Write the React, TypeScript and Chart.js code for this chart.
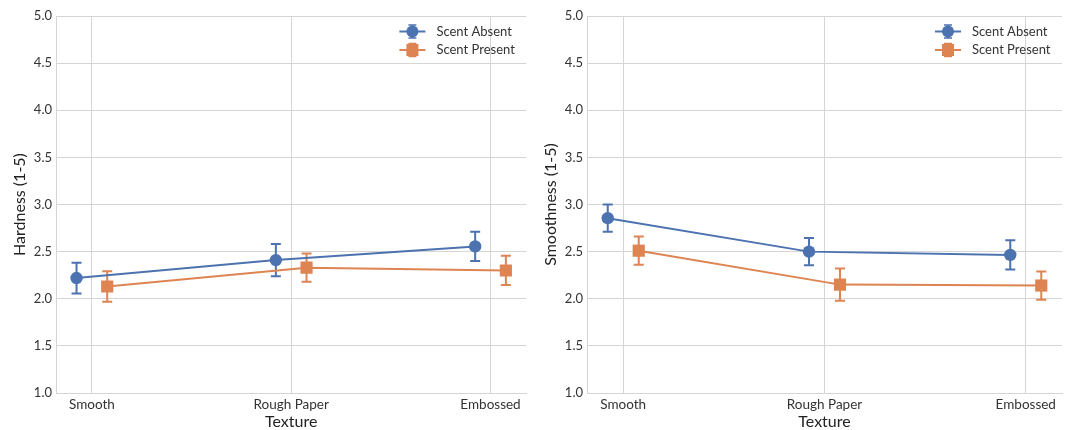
import React, { useEffect, useRef } from "react";
import { Chart, registerables } from "chart.js";

Chart.register(...registerables);

// Categories and groups
const textures = ["Smooth", "Rough Paper", "Embossed"];
const groups = ["Scent Absent", "Scent Present"];

// Hardness ratings: means and 95% CI half-widths
const hardnessAbsent = [2.22, 2.41, 2.555];
const hardnessAbsentCI = [0.163, 0.17, 0.155];
const hardnessPresent = [2.13, 2.33, 2.3];
const hardnessPresentCI = [0.163, 0.15, 0.155];

// Smoothness ratings: means and 95% CI half-widths
const smoothnessAbsent = [2.855, 2.5, 2.465];
const smoothnessAbsentCI = [0.145, 0.145, 0.155];
const smoothnessPresent = [2.51, 2.15, 2.14];
const smoothnessPresentCI = [0.15, 0.17, 0.15];

const yMin = 1;
const yMax = 5;
const yStep = 0.5;

const BLUE = "#4c72b0";
const ORANGE = "#dd8452";
const GRID = "#d5d5d5";
const TEXT = "#333333";
const FONT = "Lato, 'Noto Sans', sans-serif";
const DODGE = 0.077;

type PanelProps = {
  yTitle: string;
  absent: number[];
  absentCI: number[];
  present: number[];
  presentCI: number[];
  left: number;
  width: number;
  padRight: number;
};

function toPoints(values: number[], offset: number) {
  return values.map((v, i) => ({ x: i + offset, y: v }));
}

function drawErrorBar(
  ctx: CanvasRenderingContext2D,
  x: number,
  yTop: number,
  yBottom: number,
  cap: number,
  color: string,
  width: number
) {
  ctx.save();
  ctx.strokeStyle = color;
  ctx.lineWidth = width;
  ctx.beginPath();
  ctx.moveTo(x, yTop);
  ctx.lineTo(x, yBottom);
  ctx.moveTo(x - cap, yTop);
  ctx.lineTo(x + cap, yTop);
  ctx.moveTo(x - cap, yBottom);
  ctx.lineTo(x + cap, yBottom);
  ctx.stroke();
  ctx.restore();
}

function Panel(props: PanelProps) {
  const ref = useRef<HTMLCanvasElement | null>(null);

  useEffect(() => {
    const canvas = ref.current;
    if (!canvas) return;

    const series = [
      { label: groups[0], values: props.absent, ci: props.absentCI, color: BLUE, offset: -DODGE, style: "circle", radius: 6.2 },
      { label: groups[1], values: props.present, ci: props.presentCI, color: ORANGE, offset: DODGE, style: "rect", radius: 8.6 },
    ];

    const errorBars = {
      id: "errorBars",
      beforeDatasetsDraw(chart: any) {
        const ctx = chart.ctx;
        const xs = chart.scales.x;
        const ys = chart.scales.y;
        series.forEach((s) => {
          s.values.forEach((v, i) => {
            const px = xs.getPixelForValue(i + s.offset);
            drawErrorBar(ctx, px, ys.getPixelForValue(v + s.ci[i]), ys.getPixelForValue(v - s.ci[i]), 5, s.color, 2);
          });
        });
      },
    };

    const legendBox = {
      id: "legendBox",
      afterDraw(chart: any) {
        const ctx = chart.ctx;
        const area = chart.chartArea;
        const x0 = area.right - 127;
        series.forEach((s, k) => {
          const y = area.top + 15.5 + k * 18.5;
          ctx.save();
          ctx.strokeStyle = s.color;
          ctx.lineWidth = 2;
          ctx.beginPath();
          ctx.moveTo(x0, y);
          ctx.lineTo(x0 + 26, y);
          ctx.stroke();
          const cx = x0 + 13;
          drawErrorBar(ctx, cx, y - 6.5, y + 6.5, 4, s.color, 1.6);
          ctx.fillStyle = s.color;
          if (s.style === "circle") {
            ctx.beginPath();
            ctx.arc(cx, y, 6, 0, Math.PI * 2);
            ctx.fill();
          } else {
            ctx.fillRect(cx - 6, y - 6, 12, 12);
          }
          ctx.fillStyle = TEXT;
          ctx.font = `13px ${FONT}`;
          ctx.textAlign = "left";
          ctx.textBaseline = "middle";
          ctx.fillText(s.label, x0 + 37, y);
          ctx.restore();
        });
      },
    };

    const chart = new Chart(canvas, {
      type: "line",
      data: {
        datasets: series.map((s) => ({
          label: s.label,
          data: toPoints(s.values, s.offset),
          borderColor: s.color,
          backgroundColor: s.color,
          borderWidth: 2,
          pointStyle: s.style as any,
          pointRadius: s.radius,
          pointBorderWidth: 0,
          pointBackgroundColor: s.color,
          tension: 0,
        })),
      },
      options: {
        animation: false,
        responsive: false,
        events: [],
        layout: { padding: { top: 16, right: props.padRight, left: 0, bottom: 0 } },
        plugins: { legend: { display: false }, tooltip: { enabled: false } },
        scales: {
          x: {
            type: "linear",
            min: -0.18,
            max: 2.18,
            afterBuildTicks(scale: any) {
              scale.ticks = textures.map((_, i) => ({ value: i }));
            },
            afterFit(scale: any) {
              scale.height = 37;
              scale.paddingLeft = 0;
              scale.paddingRight = 0;
            },
            ticks: {
              callback: (_v: any, i: number) => textures[i],
              font: { family: FONT, size: 13.5 },
              color: TEXT,
              padding: 4,
              maxRotation: 0,
              autoSkip: false,
            },
            grid: { color: GRID, lineWidth: 1, drawTicks: false },
            border: { display: true, color: GRID, width: 1 },
            title: {
              display: true,
              text: "Texture",
              font: { family: FONT, size: 16, lineHeight: 1 },
              color: "#222222",
              padding: { top: 0, bottom: 0 },
            },
          },
          y: {
            type: "linear",
            min: yMin,
            max: yMax,
            afterFit(scale: any) {
              scale.width = 56;
              scale.paddingTop = 0;
              scale.paddingBottom = 0;
            },
            ticks: {
              stepSize: yStep,
              callback: (v: any) => Number(v).toFixed(1),
              font: { family: FONT, size: 13 },
              color: TEXT,
              padding: 4,
            },
            grid: { color: GRID, lineWidth: 1, drawTicks: false },
            border: { display: true, color: GRID, width: 1 },
            title: {
              display: true,
              text: props.yTitle,
              font: { family: FONT, size: 16 },
              color: "#222222",
              padding: { top: 10, bottom: 0 },
            },
          },
        },
      },
      plugins: [errorBars, legendBox],
    });

    return () => chart.destroy();
  }, []);

  return (
    <canvas
      ref={ref}
      width={props.width}
      height={430}
      style={{ position: "absolute", left: props.left, top: 0, width: props.width, height: 430 }}
    />
  );
}

export default function App() {
  return (
    <div style={{ position: "absolute", left: 0, top: 0, width: 1071, height: 430, background: "#ffffff" }}>
      <Panel
        yTitle="Hardness (1-5)"
        absent={hardnessAbsent}
        absentCI={hardnessAbsentCI}
        present={hardnessPresent}
        presentCI={hardnessPresentCI}
        left={0}
        width={535}
        padRight={5}
      />
      <Panel
        yTitle="Smoothness (1-5)"
        absent={smoothnessAbsent}
        absentCI={smoothnessAbsentCI}
        present={smoothnessPresent}
        presentCI={smoothnessPresentCI}
        left={531}
        width={540}
        padRight={9}
      />
    </div>
  );
}
